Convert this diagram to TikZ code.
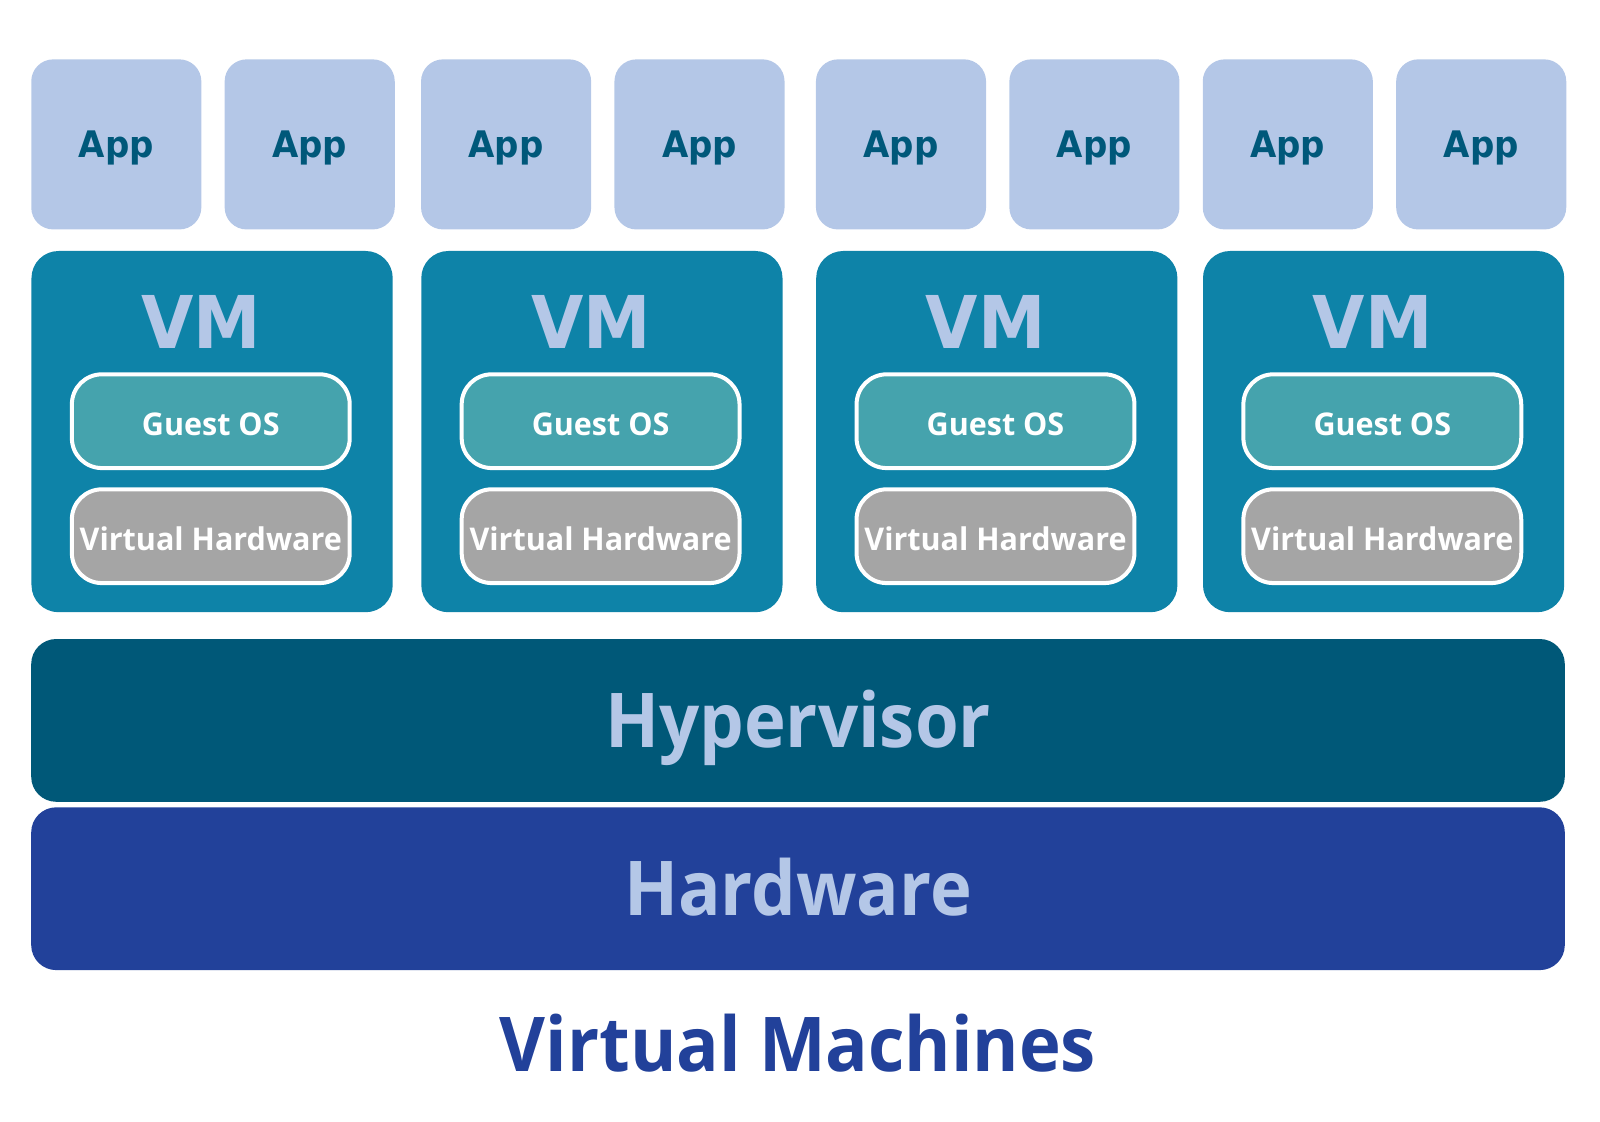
\documentclass[tikz,border=0pt]{standalone}
\usepackage{fontspec}
\usepackage{tikz}
\usepackage{xcolor}

\setmainfont{Open Sans}
\newfontfamily\bigfont{Open Sans}[FakeStretch=0.935]
\newfontfamily\smallfont{Open Sans}[FakeStretch=0.975]
\newfontfamily\tahomafont{DejaVu Sans}[FakeStretch=0.93]

\definecolor{appfill}{HTML}{B4C7E7}
\definecolor{apptext}{HTML}{00587A}
\definecolor{vmfill}{HTML}{0E83A8}
\definecolor{guestfill}{HTML}{45A3AD}
\definecolor{vhwfill}{HTML}{A5A5A5}
\definecolor{hypfill}{HTML}{005878}
\definecolor{hwfill}{HTML}{22419A}

\begin{document}
\begin{tikzpicture}[x=0.01cm, y=-0.01cm,
	appbox/.style={fill=appfill, rounded corners=0.22cm, inner sep=0pt,
		minimum width=1.7cm, minimum height=1.7cm, text=apptext,
		font=\tahomafont\bfseries\fontsize{10.4}{12}\selectfont, text height=7.6pt, text depth=0pt},
	vmbox/.style={fill=vmfill, rounded corners=0.27cm, inner sep=0pt,
		minimum width=3.61cm, minimum height=3.61cm},
	vmtext/.style={inner sep=0pt, text=appfill,
		font=\tahomafont\bfseries\fontsize{20.7}{24}\selectfont, text height=15.1pt, text depth=0pt},
	innerbox/.style={draw=white, line width=0.04cm, rounded corners=0.3cm, inner sep=0pt,
		minimum width=2.777cm, minimum height=0.937cm, text=white,
		font=\smallfont\bfseries\fontsize{8.9}{10}\selectfont, text height=8.1pt, text depth=0pt},
	layer/.style={rounded corners=0.25cm, inner sep=0pt, minimum width=15.327cm,
		minimum height=1.627cm, text=appfill,
		font=\bigfont\bfseries\fontsize{21.5}{25}\selectfont, text height=15.3pt, text depth=0pt}]

	\useasboundingbox (0,0) rectangle (1600,1121);

	% four virtual machines, two apps on each
	\foreach \x [count=\i] in {31.6,421.4,816.3,1203.1} {
		\node [appbox] (appL\i) at (\x+84.7,144.4) {App};
		\node [appbox] (appR\i) at (\x+278.1,144.4) {App};
		\node [vmbox] (vm\i) at (\x+180.5,431.6) {};
		\node [vmtext] (vmt\i) at (\x+169.5,322) {VM};
		\node [innerbox, fill=guestfill] (guest\i) at (\x+179.2,421.2) {Guest OS};
		\node [innerbox, fill=vhwfill] (vhw\i) at (\x+179.2,536.2) {Virtual Hardware};
	}

	\node [layer, fill=hypfill] (hyp) at (798,720.4) {Hypervisor};
	\node [layer, fill=hwfill] (hw) at (798,888.7) {Hardware};

	\node [inner sep=0pt, text=hwfill, font=\bigfont\bfseries\fontsize{21.5}{25}\selectfont,
		text height=15.3pt, text depth=0pt] (title) at (798,1044.5) {Virtual Machines};
\end{tikzpicture}
\end{document}
